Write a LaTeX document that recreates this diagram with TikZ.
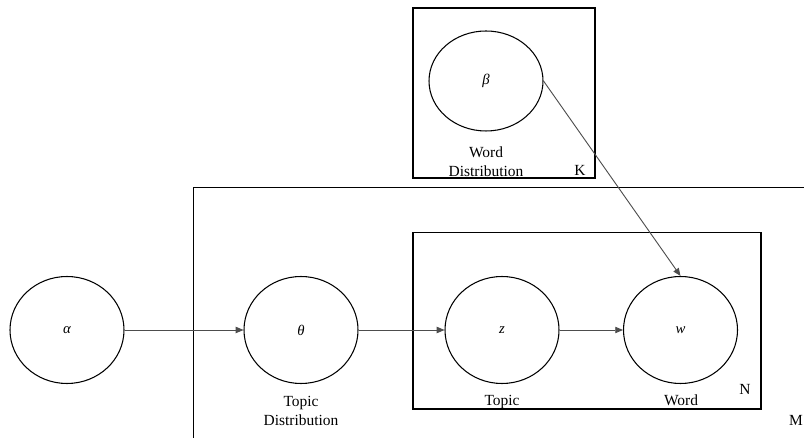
\documentclass[tikz,border=0pt]{standalone}
\usepackage{fontspec}
\setmainfont{Liberation Serif}
\usepackage{tikz}
\usetikzlibrary{shapes.geometric, arrows.meta, positioning}
\usepackage{xcolor}
\definecolor{PlateBlack}{HTML}{000000}
\definecolor{EdgeGray}{HTML}{4D4D4D}
\tikzset{
    % Variable nodes - plain ellipses
    var/.style={
        ellipse,
        draw=PlateBlack,
        line width=0.75pt,
        minimum width=2.85cm,
        minimum height=2.675cm,
        inner sep=0pt,
        font=\itshape\fontsize{10.5}{12}\selectfont
    },
    % Plates - sharp corners, empty
    plate/.style={
        rectangle,
        draw=PlateBlack,
        line width=0.75pt,
        inner sep=0pt
    },
    caption/.style={
        align=center,
        font=\fontsize{11}{13.6}\selectfont
    },
    % Arrow style - straight lines only
    arrow/.style={
        -{Triangle[length=5.5pt, width=4.5pt]},
        line width=0.65pt,
        draw=EdgeGray
    }
}
\begin{document}
\begin{tikzpicture}
    \clip (0,0) rectangle (20.1,10.95);

    % plates
    \node[plate, minimum width=4.55cm, minimum height=4.25cm] (platek) at (12.6,8.625) {};
    \node[plate, minimum width=16cm, minimum height=7cm, anchor=north west] (platem) at (4.825,6.275) {};
    \node[plate, minimum width=8.7cm, minimum height=4.405cm] (platen) at (14.675,2.9275) {};

    % variables
    \node[var] (alpha) at (1.675,2.7) {α};
    \node[var] (theta) at (7.525,2.7) {θ};
    \node[var] (z) at (12.55,2.7) {z};
    \node[var] (w) at (17.0125,2.7) {w};
    \node[var, minimum height=2.5cm] (beta) at (12.15,8.925) {β};

    % captions
    \node[caption] (lbltheta) at (7.525,0.68) {Topic\\Distribution};
    \node[caption] (lblz) at (12.55,0.9) {Topic};
    \node[caption] (lblw) at (17.025,0.95) {Word};
    \node[caption] (lblbeta) at (12.15,6.9) {Word\\Distribution};
    \node[caption] (lblk) at (14.5,6.7) {K};
    \node[caption] (lbln) at (18.625,1.225) {N};
    \node[caption, anchor=east, inner xsep=0pt] (lblm) at (20.08,0.45) {M};

    % edges
    \draw[arrow] (alpha) -- (theta);
    \draw[arrow] (theta) -- (z);
    \draw[arrow] (z) -- (w);
    \draw[arrow] (beta.east) -- (w.north);
\end{tikzpicture}
\end{document}
